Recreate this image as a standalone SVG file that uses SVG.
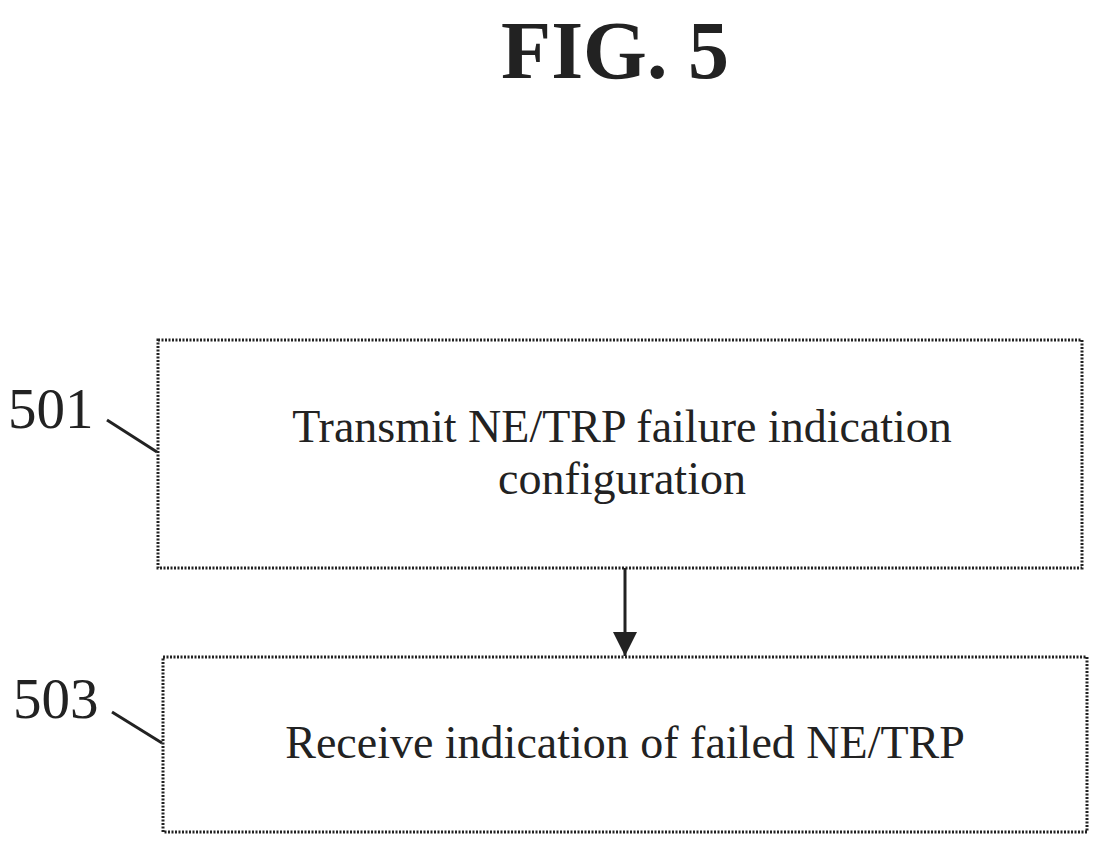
<svg xmlns="http://www.w3.org/2000/svg" width="1110" height="855" viewBox="0 0 1110 855">
<style>
text{font-family:"Liberation Serif","Times New Roman",serif;fill:#222}
.box{fill:#fff;stroke:#222;stroke-width:3;stroke-dasharray:2 1.5}
.ln{stroke:#222;stroke-width:3;fill:none}
.t{font-size:46px;text-anchor:middle}
.lab{font-size:57px}
</style>
<defs><marker id="ah" viewBox="0 0 10 10" refX="10" refY="5" markerWidth="24" markerHeight="24" markerUnits="userSpaceOnUse" orient="auto"><path d="M0,0 L10,5 L0,10 Z" fill="#222"/></marker></defs>
<rect width="1110" height="855" fill="#fff"/>
<text x="615" y="78" font-size="82" font-weight="bold" text-anchor="middle">FIG. 5</text>
<g id="n501">
<rect class="box" x="158" y="340" width="924" height="228"/>
<text class="t" x="622" y="442">Transmit NE/TRP failure indication</text>
<text class="t" x="622" y="494">configuration</text>
<text class="lab" x="8" y="428">501</text>
<line class="ln" x1="107" y1="420" x2="157" y2="452"/>
</g>
<g id="n503">
<rect class="box" x="163" y="657" width="924" height="175"/>
<text class="t" x="625" y="758">Receive indication of failed NE/TRP</text>
<text class="lab" x="13" y="718">503</text>
<line class="ln" x1="112" y1="712" x2="162" y2="743"/>
</g>
<g id="connectors">
<line class="ln" x1="625" y1="568" x2="625" y2="656" marker-end="url(#ah)"/>
</g>
</svg>
